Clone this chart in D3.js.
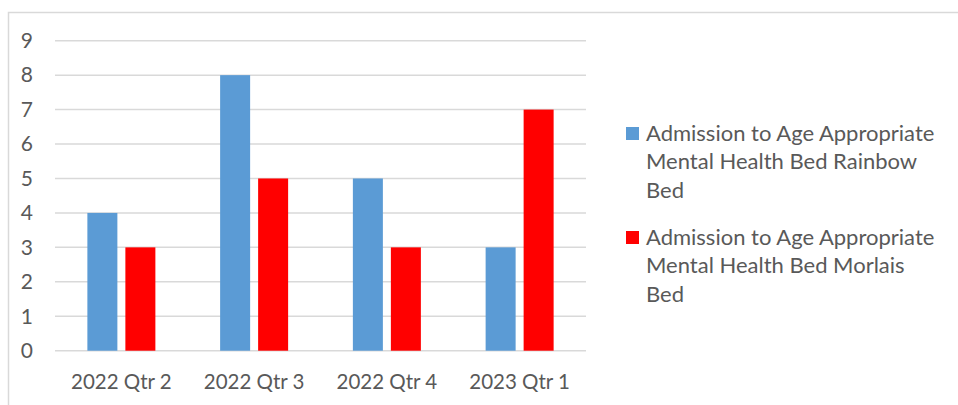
<!DOCTYPE html>
<html><head><meta charset="utf-8">
<script src="https://cdn.jsdelivr.net/npm/d3@7"></script>
<style>body{margin:0;background:#fff}svg{display:block}</style>
</head><body>
<svg id="c" width="958" height="405"></svg>
<script>
const categories = ["2022 Qtr 2", "2022 Qtr 3", "2022 Qtr 4", "2023 Qtr 1"];
const rainbow = [4, 8, 5, 3];
const morlais = [3, 5, 3, 7];
const seriesNames = [
  ["Admission to Age Appropriate", "Mental Health Bed Rainbow", "Bed"],
  ["Admission to Age Appropriate", "Mental Health Bed Morlais", "Bed"]
];
const yTicks = [0,1,2,3,4,5,6,7,8,9];
const colors = ["#5b9bd5", "#ff0000"];

const svg = d3.select("#c");
const font = "Lato, 'Liberation Sans', sans-serif";
const textColor = "#595959";

// border
svg.append("rect").attr("x", 8.5).attr("y", 12.5).attr("width", 1000).attr("height", 500)
  .attr("fill", "none").attr("stroke", "#d9d9d9").attr("stroke-width", 1.5);

const x0 = 55, x1 = 586, yTop = 40.7, yBot = 350.7;
const x = d3.scaleBand().domain(categories).range([x0, x1]).padding(0);
const y = d3.scaleLinear().domain([0, 9]).range([yBot, yTop]);

// grid
svg.append("g").selectAll("line").data(yTicks).join("line")
  .attr("x1", x0).attr("x2", x1).attr("y1", d => y(d)).attr("y2", d => y(d))
  .attr("stroke", "#d9d9d9").attr("stroke-width", 1.5);

// y labels
svg.append("g").selectAll("text").data(yTicks).join("text")
  .attr("x", 33).attr("y", d => y(d)).attr("dy", "0.35em").attr("text-anchor", "end")
  .attr("font-family", font).attr("font-size", 21).attr("fill", textColor).text(d => d);

// bars
const barW = 30, gap = 8;
const data = [rainbow, morlais];
data.forEach((vals, si) => {
  svg.append("g").selectAll("rect").data(vals).join("rect")
    .attr("x", (d, i) => x(categories[i]) + x.bandwidth()/2 - (barW*2+gap)/2 + si*(barW+gap))
    .attr("width", barW)
    .attr("y", d => y(d)).attr("height", d => y(0) - y(d))
    .attr("fill", colors[si]);
});

// x labels
svg.append("g").selectAll("text").data(categories).join("text")
  .attr("x", d => x(d) + x.bandwidth()/2).attr("y", 382).attr("dy", "0.35em")
  .attr("text-anchor", "middle").attr("font-family", font).attr("font-size", 20.5)
  .attr("fill", textColor).text(d => d);

// legend
const legTop = [133, 237];
seriesNames.forEach((lines, si) => {
  const g = svg.append("g");
  g.append("rect").attr("x", 626).attr("y", legTop[si] - 6).attr("width", 13).attr("height", 13)
    .attr("fill", colors[si]);
  lines.forEach((t, li) => {
    g.append("text").attr("x", 646).attr("y", legTop[si] + li*28.5).attr("dy", "0.35em")
      .attr("font-family", font).attr("font-size", 22).attr("fill", textColor).text(t);
  });
});
</script>
</body></html>
